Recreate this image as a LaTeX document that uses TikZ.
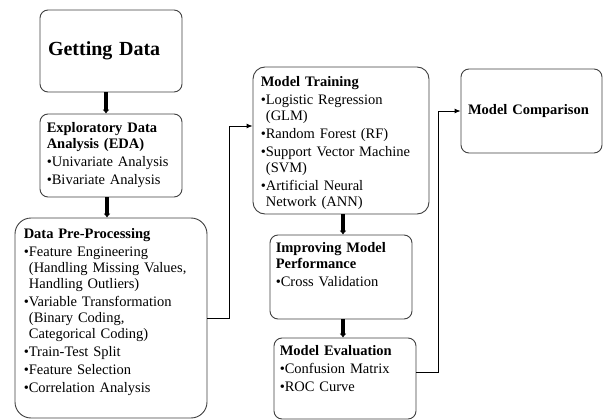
\documentclass[tikz,border=0pt]{standalone}
\usepackage{fontspec}
\setmainfont{Liberation Serif}
\usetikzlibrary{positioning,arrows.meta}

\newcommand{\bitem}[1]{\par\noindent\textbullet#1}
\newcommand{\nl}{\\\hspace*{5.2pt}}

\begin{document}
\begin{tikzpicture}[x=1pt,y=-1pt]
		\tikzset{box/.style = {draw=black!75, line width=0.9pt, rounded corners=8pt, fill=white, inner sep=0pt},
			txt/.style = {inner sep=0pt, align=left, text width=190pt, font=\fontsize{14.5}{16}\selectfont\setlength{\parskip}{2pt}},
			thk/.style = {line width=3.6pt, -{Latex[length=4pt,width=7pt]}},
			conn/.style = {line width=0.9pt, -{Latex[length=6pt,width=5pt]}}}

		\useasboundingbox (0,0) rectangle (603,420);

		\node[box, minimum width=142, minimum height=82, text width=126, align=left, font=\bfseries\fontsize{20}{24}\selectfont] (gd) at (111,51) {Getting Data};
		\node[box, minimum width=142, minimum height=83] (eda) at (111,155.5) {};
		\node[box, minimum width=192, minimum height=200, rounded corners=16pt] (dpp) at (111,318) {};
		\node[box, minimum width=176, minimum height=147, rounded corners=12pt] (mt) at (341,140.5) {};
		\node[box, minimum width=142, minimum height=84] (imp) at (341,277) {};
		\node[box, minimum width=142, minimum height=81] (me) at (345,378.5) {};
		\node[box, minimum width=141, minimum height=84, text width=127, align=left, font=\bfseries\fontsize{14.5}{16}\selectfont] (mc) at (531.5,111) {Model Comparison};

		\node[txt, below right=9pt and 7pt of eda.north west] (edaT) {{\bfseries Exploratory Data\\Analysis (EDA)}
			\bitem{Univariate Analysis}
			\bitem{Bivariate Analysis}};
		\node[txt, below right=11pt and 9pt of dpp.north west] (dppT) {{\bfseries Data Pre-Processing}
			\bitem{Feature Engineering\nl(Handling Missing Values,\nl Handling Outliers)}
			\bitem{Variable Transformation\nl(Binary Coding,\nl Categorical Coding)}
			\bitem{Train-Test Split}
			\bitem{Feature Selection}
			\bitem{Correlation Analysis}};
		\node[txt, below right=10pt and 8pt of mt.north west] (mtT) {{\bfseries Model Training}
			\bitem{Logistic Regression\nl(GLM)}
			\bitem{Random Forest (RF)}
			\bitem{Support Vector Machine\nl(SVM)}
			\bitem{Artificial Neural\nl Network (ANN)}};
		\node[txt, below right=8pt and 6pt of imp.north west] (impT) {{\bfseries Improving Model\\Performance}
			\bitem{Cross Validation}};
		\node[txt, below right=8pt and 6pt of me.north west] (meT) {{\bfseries Model Evaluation}
			\bitem{Confusion Matrix}
			\bitem{ROC Curve}};

		\coordinate (c1) at (229,126);
		\coordinate (c2) at (438,372);

		\draw[thk] ([xshift=-5pt]gd.south) -- ([xshift=-5pt]eda.north);
		\draw[thk] ([xshift=-4pt]eda.south) -- ([xshift=-4pt]dpp.north);
		\draw[thk] ([xshift=2pt]mt.south) -- ([xshift=2pt]imp.north);
		\draw[thk] ([xshift=2pt]imp.south) -- ([xshift=-2pt]me.north);

		\draw[conn] (dpp.east) -| (c1) -- (c1 -| mt.west);
		\draw[conn] (c2 -| me.east) -- (c2) |- (mc.west);

	\end{tikzpicture}
\end{document}
